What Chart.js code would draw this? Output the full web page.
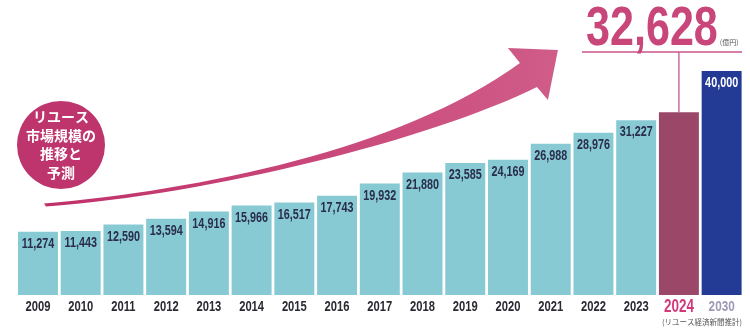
<!DOCTYPE html>
<html lang="ja">
<head>
<meta charset="utf-8">
<script src="https://cdn.jsdelivr.net/npm/chart.js@4/dist/chart.umd.min.js"></script>
<style>
  html, body { margin: 0; padding: 0; background: #ffffff; }
  #wrap { width: 750px; height: 329px; position: relative; }
</style>
</head>
<body>
<div id="wrap"><canvas id="reuseChart"></canvas></div>
<script>
// 年
const years = ['2009', '2010', '2011', '2012', '2013', '2014', '2015', '2016',
    '2017', '2018', '2019', '2020', '2021', '2022', '2023', '2024', '2030'];
// リユース市場規模（億円）
const marketSize = [11274, 11443, 12590, 13594, 14916, 15966, 16517, 17743,
    19932, 21880, 23585, 24169, 26988, 28976, 31227, 32628, 40000];
// 見出し・注記
const badgeLines = ['リユース', '市場規模の', '推移と', '予測'];
const unitText = '(億円)';
const sourceText = '(リユース経済新聞推計)';

const HIGHLIGHT = 15;   // 2024
const FORECAST = 16;    // 2030
const SANS = "'Liberation Sans', Arial, sans-serif";
const JP = "'Noto Sans CJK JP', 'Noto Sans', sans-serif";

const TEAL = '#87cad3';
const PINK = '#c8467a';

const barColors = marketSize.map((v, i) =>
    i === HIGHLIGHT ? '#9a4768' : (i === FORECAST ? '#233b95' : TEAL));

const fmt = n => n.toLocaleString('en-US');

// 横に詰めた文字（コンデンス書体の代わり）
function narrowText(ctx, text, x, y, sx) {
    ctx.save();
    ctx.translate(x, y);
    ctx.scale(sx, 1);
    ctx.fillText(text, 0, 0);
    ctx.restore();
}

// 矢印と丸バッジ（データの下に描く）
const decoPlugin = {
    id: 'deco',
    beforeDatasetsDraw(chart) {
        const { ctx, scales: { x, y } } = chart;
        const P = (i, v) => [x.getPixelForValue(i), y.getPixelForValue(v)];

        // 矢印（カテゴリ位置, 値）
        const u0 = P(0.141, 16340), uc1 = P(3.792, 18750), uc2 = P(8.473, 25890), u1 = P(11.281, 41430);
        const h1 = P(10.999, 44110), tip = P(12.169, 43750), h2 = P(11.935, 34820);
        const l0 = P(11.678, 37140), lc1 = P(9.174, 27680), lc2 = P(4.026, 17950), l1 = P(0.188, 15800);

        const grad = ctx.createLinearGradient(u0[0], 0, tip[0], 0);
        grad.addColorStop(0, '#c0306a');
        grad.addColorStop(1, '#d05c88');

        ctx.save();
        ctx.fillStyle = grad;
        ctx.beginPath();
        ctx.moveTo(u0[0], u0[1]);
        ctx.bezierCurveTo(uc1[0], uc1[1], uc2[0], uc2[1], u1[0], u1[1]);
        ctx.lineTo(h1[0], h1[1]);
        ctx.lineTo(tip[0], tip[1]);
        ctx.lineTo(h2[0], h2[1]);
        ctx.lineTo(l0[0], l0[1]);
        ctx.bezierCurveTo(lc1[0], lc1[1], lc2[0], lc2[1], l1[0], l1[1]);
        ctx.closePath();
        ctx.fill();

        // 丸バッジ
        const c = P(0.539, 26790);
        ctx.fillStyle = '#bd356c';
        ctx.beginPath();
        ctx.arc(c[0], c[1], 44, 0, Math.PI * 2);
        ctx.fill();
        ctx.fillStyle = '#ffffff';
        ctx.font = 'bold 14px ' + JP;
        ctx.textAlign = 'center';
        ctx.textBaseline = 'middle';
        badgeLines.forEach((t, k) => {
            ctx.fillText(t, c[0], c[1] - 28 + k * 18.5);
        });
        ctx.restore();
    },
    afterDatasetsDraw(chart) {
        const { ctx, chartArea, scales: { x } } = chart;
        const bars = chart.getDatasetMeta(0).data;

        ctx.save();
        ctx.textAlign = 'center';
        ctx.textBaseline = 'middle';

        // 棒の中の数値
        ctx.font = 'bold 15px ' + SANS;
        bars.forEach((bar, i) => {
            if (i === HIGHLIGHT) return;
            ctx.fillStyle = i === FORECAST ? '#ffffff' : '#2a2d4c';
            narrowText(ctx, fmt(marketSize[i]), bar.x, bar.y + 12, 0.72);
        });

        // 年ラベル（x軸の位置から）
        years.forEach((yr, i) => {
            const px = x.getPixelForValue(i);
            if (i === HIGHLIGHT) {
                ctx.fillStyle = '#d2397a';
                ctx.font = 'bold 18px ' + SANS;
                narrowText(ctx, yr, px, chartArea.bottom + 12, 0.75);
            } else if (i === FORECAST) {
                ctx.fillStyle = '#9c99b5';
                ctx.font = 'bold 15px ' + SANS;
                narrowText(ctx, yr, px, chartArea.bottom + 12, 0.78);
            } else {
                ctx.fillStyle = '#2a2a33';
                ctx.font = 'bold 14px ' + SANS;
                narrowText(ctx, yr, px, chartArea.bottom + 12, 0.8);
            }
        });

        // 2024年の大きな数字と引き出し線
        const hb = bars[HIGHLIGHT];
        const lineY = 52;
        ctx.strokeStyle = '#c9578a';
        ctx.lineWidth = 1.3;
        ctx.beginPath();
        ctx.moveTo(hb.x - 97, lineY);
        ctx.lineTo(chartArea.right - 1, lineY);
        ctx.moveTo(hb.x, lineY);
        ctx.lineTo(hb.x, hb.y);
        ctx.stroke();

        const numX = hb.x - 27;
        ctx.fillStyle = PINK;
        ctx.font = 'bold 56px ' + SANS;
        ctx.textBaseline = 'alphabetic';
        narrowText(ctx, fmt(marketSize[HIGHLIGHT]), numX, 45, 0.77);
        const w = ctx.measureText(fmt(marketSize[HIGHLIGHT])).width * 0.77;

        ctx.fillStyle = '#555555';
        ctx.font = '7px ' + JP;
        ctx.textAlign = 'left';
        ctx.fillText(unitText, numX + w / 2 + 2, 45);

        // 出典
        ctx.textAlign = 'right';
        ctx.fillStyle = '#555555';
        ctx.font = '7.5px ' + JP;
        ctx.fillText(sourceText, chartArea.right - 1, 325);
        ctx.restore();
    }
};

new Chart(document.getElementById('reuseChart'), {
    type: 'bar',
    data: {
        labels: years,
        datasets: [{
            data: marketSize,
            backgroundColor: barColors,
            borderWidth: 0,
            categoryPercentage: 1,
            barPercentage: 0.935
        }]
    },
    options: {
        responsive: true,
        maintainAspectRatio: false,
        animation: false,
        layout: {
            padding: { left: 16.6, right: 7, top: 15, bottom: 34 }
        },
        plugins: {
            legend: { display: false },
            tooltip: { enabled: false }
        },
        scales: {
            x: { display: false },
            y: {
                display: false,
                min: 0,
                max: 50000
            }
        }
    },
    plugins: [decoPlugin]
});
</script>
</body>
</html>
